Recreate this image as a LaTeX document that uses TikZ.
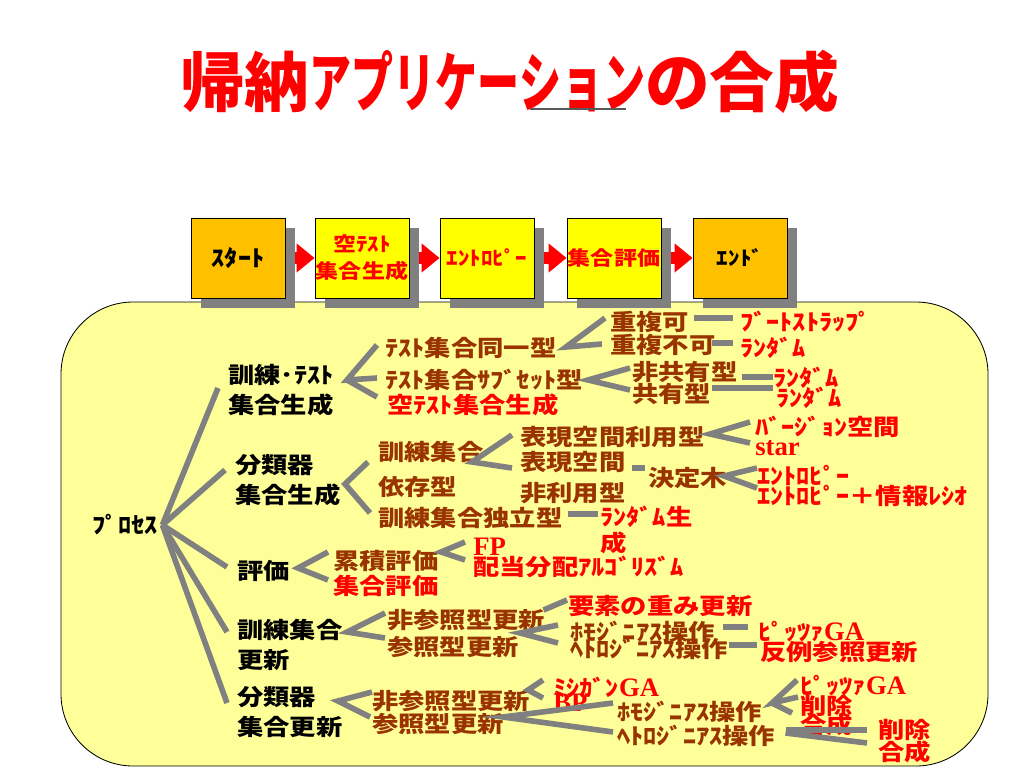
\documentclass[tikz,border=0pt]{standalone}
\usepackage{fontspec}
\usepackage{graphicx}
\usetikzlibrary{calc,shadows,arrows.meta}
\newfontfamily\jpfont{Noto Sans CJK JP}[FakeStretch=1.17]
\newfontfamily\jptitle{Noto Sans CJK JP}
\newfontfamily\latfont{Liberation Serif}
\newcommand\lat[1]{{\latfont\bfseries\fontsize{19}{21}\selectfont #1}}
\definecolor{brn}{HTML}{993300}
\definecolor{paleyel}{HTML}{FFFF99}
\definecolor{orng}{HTML}{FFC000}
\definecolor{boxyel}{HTML}{FFFF00}
\definecolor{shade}{HTML}{808080}
\tikzset{
  titletext/.style={anchor=west, inner sep=0pt, text=red, font=\jptitle\bfseries\fontsize{46}{50}\selectfont},
  flowbox/.style={draw=black, line width=0.6pt, minimum width=2.35cm, minimum height=2cm, inner sep=0pt, align=center,
    font=\jpfont\bfseries\fontsize{14}{19}\selectfont,
    drop shadow={shadow xshift=0.25cm, shadow yshift=-0.25cm, opacity=1, fill=shade}},
  flowarrow/.style={draw=red, line width=0.3cm, -{Triangle[length=0.45cm, width=0.7cm]}},
  item/.style={anchor=west, inner sep=0pt, align=left, font=\jpfont\bfseries\fontsize{16}{21.3}\selectfont},
  lvone/.style={item, text=black},
  brntext/.style={item, text=brn},
  redtext/.style={item, text=red},
  branch/.style={draw=shade, line width=0.14cm}
}
\begin{document}
\begin{tikzpicture}[x=0.025cm, y=-0.025cm]
\useasboundingbox (0,0) rectangle (1024,768);
% title
\node[titletext] (ttl) at (180,82) {帰納\scalebox{0.65}[1]{アプリケーション}の合成};
\draw[gray!70!black, line width=0.04cm] (530,109) -- (626,109);
% process frame
\draw[fill=paleyel, draw=black, line width=0.6pt, rounded corners=1.8cm] (61,302) rectangle (988,766);
% flow
\node[flowbox, fill=orng, font=\jpfont\bfseries\fontsize{16}{19}\selectfont] (start) at (238,258) {ｽﾀｰﾄ};
\node[flowbox, fill=boxyel, text=red] (emptygen0) at (362,258) {空ﾃｽﾄ\\集合生成};
\node[flowbox, fill=boxyel, text=red] (entropy0) at (487,258) {ｴﾝﾄﾛﾋﾟｰ};
\node[flowbox, fill=boxyel, text=red] (seteval0) at (614,258) {集合評価};
\node[flowbox, fill=orng] (finish) at (740,258) {ｴﾝﾄﾞ};
\draw[flowarrow] ($(start.east)+(10,0)$) -- (emptygen0.west);
\draw[flowarrow] ($(emptygen0.east)+(10,0)$) -- (entropy0.west);
\draw[flowarrow] ($(entropy0.east)+(10,0)$) -- (seteval0.west);
\draw[flowarrow] ($(seteval0.east)+(10,0)$) -- (finish.west);
% root and first level
\node[lvone] (proc) at (92,525) {ﾌﾟﾛｾｽ};
\node[lvone] (trtest) at (228,390) {訓練･ﾃｽﾄ\\集合生成};
\node[lvone] (clgen) at (235,480) {分類器\\集合生成};
\node[lvone] (eval) at (237,571) {評価};
\node[lvone] (trupd) at (237,645) {訓練集合\\更新};
\node[lvone] (clupd) at (237,712) {分類器\\集合更新};
\draw[branch] ($(proc.east)+(4,0)$) -- ($(trtest.west)+(-10,-2)$);
\draw[branch] ($(proc.east)+(4,0)$) -- ($(clgen.west)+(-10,-10)$);
\draw[branch] ($(proc.east)+(4,0)$) -- ($(eval.west)+(-10,-4)$);
\draw[branch] ($(proc.east)+(4,0)$) -- ($(trupd.west)+(-10,-13)$);
\draw[branch] ($(proc.east)+(4,0)$) -- ($(clupd.west)+(-10,-9)$);
% training / test set generation
\node[brntext] (same) at (385,348) {ﾃｽﾄ集合同一型};
\node[brntext] (subset) at (385,380) {ﾃｽﾄ集合ｻﾌﾞｾｯﾄ型};
\node[redtext] (emptygen) at (387,405) {空ﾃｽﾄ集合生成};
\coordinate (v1) at (347,380);
\draw[branch] ($(same.west)+(-8,-3)$) -- (v1) -- ($(subset.west)+(-8,-2)$);
\draw[branch] (v1) -- ($(emptygen.west)+(-10,-8)$);
\node[brntext] (dupok) at (610,322) {重複可};
\node[brntext] (dupng) at (610,345) {重複不可};
\coordinate (v2) at (566,347);
\draw[branch] ($(dupok.west)+(-5,-4)$) -- (v2) -- ($(dupng.west)+(-8,-1)$);
\node[redtext] (boot) at (740,322) {ﾌﾞｰﾄｽﾄﾗｯﾌﾟ};
\node[redtext] (rand1) at (740,348) {ﾗﾝﾀﾞﾑ};
\draw[branch] ($(dupok.east)+(4,-4)$) -- ($(boot.west)+(-7,-4)$);
\draw[branch] ($(dupng.east)+(-4,-2)$) -- ($(rand1.west)+(-7,-5)$);
\node[brntext] (nonshare) at (632,372) {非共有型};
\node[brntext] (share) at (632,394) {共有型};
\coordinate (v3) at (588,380);
\draw[branch] ($(nonshare.west)+(-2,-4)$) -- (v3) -- ($(share.west)+(-2,-4)$);
\node[redtext] (rand2) at (773,378) {ﾗﾝﾀﾞﾑ};
\node[redtext] (rand3) at (776,398) {ﾗﾝﾀﾞﾑ};
\draw[branch] ($(nonshare.east)+(4,5)$) -- ($(rand2.west)+(0,-1)$);
\draw[branch] ($(share.east)+(0,-6)$) -- ($(rand3.west)+(-3,-10)$);
% classifier set generation
\node[brntext] (dep) at (378,469) {訓練集合\\[3.5pt]依存型};
\node[brntext] (indep) at (378,518) {訓練集合独立型};
\coordinate (v4) at (345,484);
\draw[branch] ($(dep.west)+(-10,-7)$) -- (v4) -- ($(indep.west)+(-8,-5)$);
\node[brntext] (repuse) at (520,437) {表現空間利用型};
\node[brntext] (repnon) at (520,478) {表現空間\\[0.7pt]非利用型};
\coordinate (v5) at (472,462);
\draw[branch] ($(repuse.west)+(-8,-2)$) -- (v5) -- ($(repnon.west)+(-8,-10)$);
\node[redtext] (version) at (755,427) {ﾊﾞｰｼﾞｮﾝ空間};
\node[redtext] (star) at (755,448) {\lat{star}};
\coordinate (v6) at (710,434);
\draw[branch] ($(version.west)+(-5,-5)$) -- (v6) -- ($(star.west)+(-5,-5)$);
\node[brntext] (tree) at (648,478) {決定木};
\draw[branch] ($(repnon.east)+(6,-10)$) -- ($(tree.west)+(-3,-10)$);
\node[redtext] (ent1) at (757,475) {ｴﾝﾄﾛﾋﾟｰ};
\node[redtext] (ent2) at (757,496) {ｴﾝﾄﾛﾋﾟｰ＋情報ﾚｼｵ};
\coordinate (v7) at (724,476);
\draw[branch] ($(ent1.west)+(0,-7)$) -- (v7) -- ($(ent2.west)+(0,-8)$);
% evaluation
\node[brntext] (cumul) at (333,561) {累積評価};
\node[redtext] (seval) at (333,586) {集合評価};
\coordinate (v8) at (298,568);
\draw[branch] ($(cumul.west)+(-5,-9)$) -- (v8) -- ($(seval.west)+(-5,-6)$);
\node[redtext] (fp) at (473,547) {\lat{FP}};
\node[redtext] (alloc) at (473,567) {配当分配ｱﾙｺﾞﾘｽﾞﾑ};
\coordinate (v9) at (441,552);
\draw[branch] ($(fp.west)+(-8,-5)$) -- (v9) -- ($(alloc.west)+(-8,-7)$);
\node[redtext] (randgen) at (600,530) {ﾗﾝﾀﾞﾑ生\\[-2.2pt]成};
\draw[branch] ($(indep.east)+(5,-4)$) -- ($(randgen.west)+(-2,-16)$);
% training set update
\node[brntext] (nref1) at (387,620) {非参照型更新};
\node[brntext] (ref1) at (387,647) {参照型更新};
\coordinate (v10) at (347,632);
\draw[branch] ($(nref1.west)+(-2,-7)$) -- (v10) -- ($(ref1.west)+(-2,-9)$);
\node[redtext] (weight) at (568,606) {要素の重み更新};
\draw[branch] ($(nref1.east)+(-2,-10)$) -- ($(weight.west)+(-1,-6)$);
\node[brntext] (homo1) at (570,632) {ﾎﾓｼﾞﾆｱｽ操作};
\node[brntext] (hetero1) at (570,649) {ﾍﾄﾛｼﾞﾆｱｽ操作};
\coordinate (v11) at (520,633);
\draw[branch] ($(homo1.west)+(-12,-7)$) -- (v11) -- ($(hetero1.west)+(-12,-6)$);
\node[redtext] (pitt1) at (758,632) {ﾋﾟｯﾂｧ\lat{GA}};
\node[redtext] (counter) at (760,652) {反例参照更新};
\draw[branch] ($(homo1.east)+(8,-5)$) -- ($(pitt1.west)+(-10,-5)$);
\draw[branch] ($(hetero1.east)+(0,-4)$) -- ($(counter.west)+(-3,-7)$);
% classifier set update
\node[brntext] (nref2) at (372,701) {非参照型更新};
\node[brntext] (ref2) at (372,724) {参照型更新};
\coordinate (v12) at (338,701);
\draw[branch] ($(nref2.west)+(0,-9)$) -- (v12) -- ($(ref2.west)+(-2,-7)$);
\node[redtext] (michigan) at (553,687) {ﾐｼｶﾞﾝ\lat{GA}};
\node[redtext] (bp) at (553,703) {\lat{BP}};
\coordinate (v13) at (528,690);
\draw[branch] ($(michigan.west)+(-10,-7)$) -- (v13) -- ($(bp.west)+(-10,-5)$);
\node[brntext] (homo2) at (617,712) {ﾎﾓｼﾞﾆｱｽ操作};
\node[brntext] (hetero2) at (617,736) {ﾍﾄﾛｼﾞﾆｱｽ操作};
\coordinate (v14) at (503,717);
\draw[branch] ($(homo2.west)+(-4,-9)$) -- (v14) -- ($(hetero2.west)+(-4,-4)$);
\node[redtext] (pitt2) at (800,686) {ﾋﾟｯﾂｧ\lat{GA}};
\node[redtext] (del1) at (800,706) {削除};
\node[redtext] (syn1) at (800,725) {合成};
\coordinate (v15) at (772,703);
\draw[branch] ($(pitt2.west)+(-3,-6)$) -- (v15) -- ($(del1.west)+(-2,-9)$);
\draw[branch] (v15) -- ($(syn1.west)+(-8,-12)$);
\node[redtext] (del2) at (878,730) {削除};
\node[redtext] (syn2) at (878,752) {合成};
\draw[branch] ($(hetero2.east)+(10,-6)$) -- ($(del2.west)+(-11,0)$);
\draw[branch] ($(hetero2.east)+(10,-3)$) -- ($(syn2.west)+(-11,-9)$);
\end{tikzpicture}
\end{document}
